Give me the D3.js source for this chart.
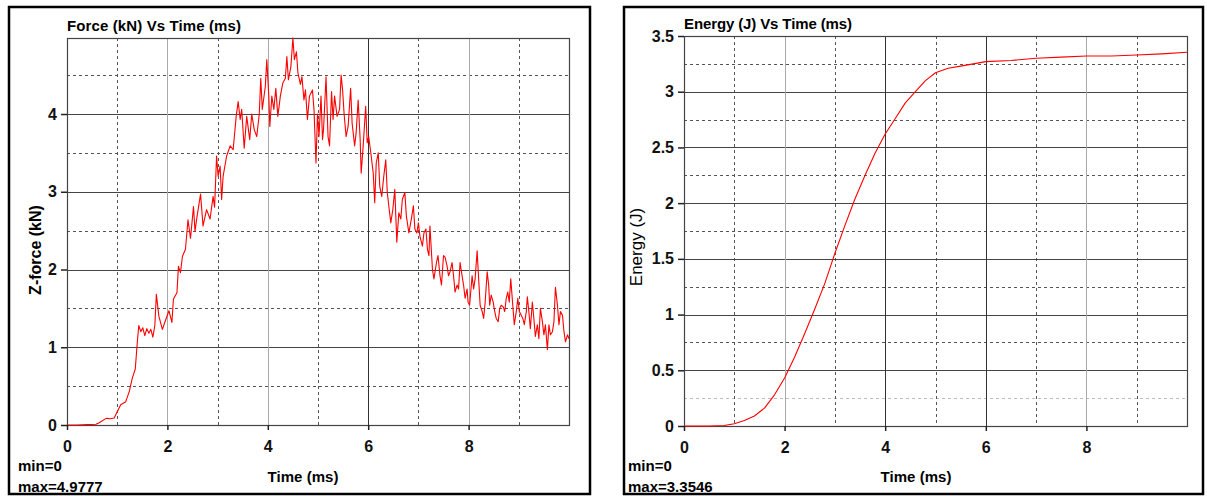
<!DOCTYPE html>
<html>
<head>
<meta charset="utf-8">
<script src="https://cdn.jsdelivr.net/npm/d3@7"></script>
<style>
  body { margin: 0; background: #fff; }
  text { font-family: "Liberation Sans", Arial, sans-serif; }
</style>
</head>
<body>
<div id="chart"></div>
<script>
var width = 1207,
    height = 496;

// Force (kN) vs time (ms)
var forceTime = [0, 0.2, 0.4, 0.58, 0.64, 0.78, 0.86, 0.94, 1.0, 1.07, 1.17, 1.24, 1.30, 1.36, 1.40, 1.43,
  1.47, 1.51, 1.55, 1.59, 1.63, 1.67, 1.71, 1.75, 1.78, 1.83, 1.90, 1.97, 2.03, 2.09, 2.12, 2.19,
  2.22, 2.26, 2.30, 2.36, 2.41, 2.46, 2.52, 2.55, 2.59, 2.66, 2.71, 2.78, 2.85, 2.91, 2.94, 2.98,
  3.01, 3.05, 3.08, 3.11, 3.18, 3.25, 3.31, 3.37, 3.41, 3.45, 3.48, 3.53, 3.58, 3.64, 3.68, 3.73,
  3.78, 3.83, 3.86, 3.89, 3.95, 3.98, 4.02, 4.04, 4.08, 4.12, 4.16, 4.20, 4.25, 4.30, 4.35, 4.38,
  4.41, 4.46, 4.50, 4.53, 4.57, 4.60, 4.65, 4.68, 4.72, 4.75, 4.79, 4.83, 4.89, 4.92, 4.96, 4.99,
  5.02, 5.06, 5.09, 5.11, 5.16, 5.20, 5.23, 5.27, 5.30, 5.33, 5.38, 5.43, 5.46, 5.49, 5.52, 5.56,
  5.60, 5.65, 5.68, 5.73, 5.76, 5.80, 5.84, 5.86, 5.90, 5.95, 5.98, 6.01, 6.06, 6.10, 6.13, 6.16,
  6.20, 6.23, 6.27, 6.31, 6.35, 6.38, 6.41, 6.45, 6.49, 6.53, 6.57, 6.61, 6.65, 6.68, 6.73, 6.76,
  6.81, 6.86, 6.90, 6.93, 6.97, 7.00, 7.03, 7.08, 7.11, 7.15, 7.18, 7.21, 7.23, 7.28, 7.31, 7.36,
  7.39, 7.43, 7.46, 7.50, 7.53, 7.57, 7.60, 7.63, 7.67, 7.70, 7.73, 7.77, 7.80, 7.83, 7.87, 7.90,
  7.93, 7.97, 7.99, 8.02, 8.07, 8.10, 8.13, 8.17, 8.20, 8.23, 8.27, 8.30, 8.33, 8.37, 8.40, 8.42,
  8.45, 8.49, 8.52, 8.55, 8.59, 8.62, 8.65, 8.69, 8.72, 8.75, 8.78, 8.81, 8.84, 8.88, 8.91, 8.95,
  8.98, 9.01, 9.05, 9.08, 9.11, 9.15, 9.17, 9.20, 9.23, 9.27, 9.30, 9.33, 9.37, 9.40, 9.43, 9.47,
  9.50, 9.53, 9.57, 9.60, 9.63, 9.67, 9.70, 9.73, 9.77, 9.80, 9.83, 9.87, 9.90, 9.93, 9.97, 10.0];

var forceKN = [0, 0, 0.005, 0.01, 0.03, 0.085, 0.08, 0.09, 0.17, 0.26, 0.3, 0.43, 0.6, 0.72, 1.06, 1.28,
  1.2, 1.25, 1.15, 1.24, 1.18, 1.23, 1.13, 1.28, 1.68, 1.4, 1.23, 1.36, 1.47, 1.32, 1.62, 1.7,
  2.04, 1.96, 2.17, 2.26, 2.64, 2.4, 2.81, 2.49, 2.68, 2.97, 2.56, 2.77, 2.65, 2.94, 2.8, 3.46,
  3.2, 3.33, 2.9, 3.2, 3.46, 3.59, 3.54, 3.97, 4.16, 3.93, 4.06, 3.56, 3.97, 3.67, 4.0, 3.8,
  3.71, 4.0, 4.46, 4.06, 4.35, 4.7, 4.23, 3.84, 4.23, 4.06, 4.33, 3.97, 4.23, 4.4, 4.46, 4.74,
  4.44, 4.61, 4.9777, 4.7, 4.8, 4.53, 4.38, 4.48, 4.18, 4.31, 3.93, 4.23, 4.31, 4.06, 3.37, 4.0,
  3.71, 4.23, 3.67, 3.8, 4.48, 3.71, 3.59, 4.29, 3.93, 4.23, 3.97, 4.06, 4.5, 4.31, 4.0, 3.71,
  3.84, 4.33, 3.88, 3.59, 3.76, 4.18, 3.67, 3.24, 3.59, 4.1, 3.63, 3.71, 3.46, 3.24, 2.86, 3.37,
  3.5, 3.07, 2.94, 3.2, 3.41, 2.99, 2.82, 2.6, 2.77, 3.03, 2.35, 2.73, 2.65, 2.9, 2.99, 2.69,
  2.47, 2.65, 2.82, 2.52, 2.47, 2.6, 2.43, 2.3, 2.47, 2.52, 2.26, 2.18, 2.56, 2.0, 1.88, 2.09,
  2.18, 1.92, 1.8, 2.18, 2.16, 2.05, 1.92, 1.97, 2.09, 1.92, 1.71, 1.8, 1.75, 2.09, 1.92, 1.8,
  1.63, 1.75, 1.58, 1.54, 1.92, 1.75, 1.88, 2.24, 1.88, 1.54, 1.46, 1.37, 1.58, 1.97, 1.8, 1.54,
  1.67, 1.58, 1.46, 1.37, 1.33, 1.5, 1.54, 1.52, 1.46, 1.63, 1.71, 1.58, 1.88, 1.54, 1.29, 1.46,
  1.63, 1.46, 1.41, 1.37, 1.29, 1.46, 1.65, 1.46, 1.24, 1.58, 1.37, 1.14, 1.29, 1.11, 1.5, 1.33,
  1.16, 1.29, 0.97, 1.29, 1.16, 1.2, 1.33, 1.77, 1.54, 1.29, 1.46, 1.41, 1.2, 1.07, 1.16, 1.11];

// Energy (J) vs time (ms)
var energyTime = [0, 0.5, 0.8, 1.0, 1.2, 1.4, 1.6, 1.8, 2.0, 2.2, 2.4, 2.6, 2.8, 3.0, 3.2, 3.4, 3.6, 3.8,
  4.0, 4.2, 4.4, 4.6, 4.8, 5.0, 5.25, 5.5, 6.0, 6.5, 7.0, 7.5, 8.0, 8.5, 9.0, 9.5, 10.0];
var energyJ = [0, 0, 0.005, 0.02, 0.05, 0.09, 0.16, 0.28, 0.43, 0.62, 0.83, 1.05, 1.28, 1.55, 1.8, 2.04, 2.25, 2.45,
  2.62, 2.76, 2.9, 3.0, 3.1, 3.17, 3.21, 3.23, 3.27, 3.28, 3.3, 3.31, 3.32, 3.32, 3.33, 3.34, 3.3546];

var timeTicks = [0, 2, 4, 6, 8];
var timeMinor = [1, 3, 5, 7, 9];
var forceTicks = [0, 1, 2, 3, 4];
var forceMinor = [0.5, 1.5, 2.5, 3.5, 4.5];
var energyTicks = [0, 0.5, 1, 1.5, 2, 2.5, 3, 3.5];
var energyMinor = [0.25, 0.75, 1.25, 1.75, 2.25, 2.75, 3.25];

var svg = d3.select("#chart").append("svg")
    .attr("width", width)
    .attr("height", height);

svg.append("rect").attr("width", width).attr("height", height).attr("fill", "#fff");

function drawPanel(p) {
  var g = svg.append("g");

  // outer frame
  g.append("rect")
      .attr("x", p.frame[0]).attr("y", p.frame[1])
      .attr("width", p.frame[2]).attr("height", p.frame[3])
      .attr("fill", "none").attr("stroke", "#000").attr("stroke-width", 2.5);

  var x = d3.scaleLinear().domain([0, 10]).range([p.left, p.right]);
  var y = d3.scaleLinear().domain(p.yDomain).range([p.bottom, p.top]);

  // dashed minor grid
  g.selectAll(".hminor").data(p.yMinor).enter().append("line")
      .attr("x1", p.left).attr("x2", p.right)
      .attr("y1", function(d) { return Math.round(y(d)) + 0.5; })
      .attr("y2", function(d) { return Math.round(y(d)) + 0.5; })
      .attr("stroke", function(d, i) { return (p.lightFirst && i == 0) ? "#bbb" : "#555"; })
      .attr("stroke-dasharray", "3,3");
  g.selectAll(".vminor").data(timeMinor).enter().append("line")
      .attr("y1", p.top).attr("y2", p.bottom)
      .attr("x1", function(d) { return Math.round(x(d)) + 0.5; })
      .attr("x2", function(d) { return Math.round(x(d)) + 0.5; })
      .attr("stroke", "#555")
      .attr("stroke-dasharray", "3,3");

  // solid major grid
  g.selectAll(".hmajor").data(p.yTicks.slice(1)).enter().append("line")
      .attr("x1", p.left).attr("x2", p.right)
      .attr("y1", function(d) { return Math.round(y(d)) + 0.5; })
      .attr("y2", function(d) { return Math.round(y(d)) + 0.5; })
      .attr("stroke", "#444");
  g.selectAll(".vmajor").data(timeTicks.slice(1)).enter().append("line")
      .attr("y1", p.top).attr("y2", p.bottom)
      .attr("x1", function(d) { return Math.round(x(d)) + 0.5; })
      .attr("x2", function(d) { return Math.round(x(d)) + 0.5; })
      .attr("stroke", function(d) { return p.darkV.indexOf(d) >= 0 ? "#333" : "#aaa"; });

  // plot frame
  g.append("rect")
      .attr("x", p.left + 0.5).attr("y", Math.round(p.top) + 0.5)
      .attr("width", p.right - p.left).attr("height", p.bottom - Math.round(p.top))
      .attr("fill", "none").attr("stroke", "#444").attr("stroke-width", 1.2);

  // data line
  var line = d3.line()
      .x(function(d) { return x(d[0]); })
      .y(function(d) { return y(d[1]); });
  g.append("path")
      .datum(d3.zip(p.xs, p.ys))
      .attr("d", line)
      .attr("fill", "none")
      .attr("stroke", "#ff0000")
      .attr("stroke-width", p.lineWidth)
      .attr("stroke-linejoin", "round");

  // axes
  var yAxis = g.append("g")
      .attr("transform", "translate(" + p.left + ",0)")
      .call(d3.axisLeft(y).tickValues(p.yTicks).tickSize(6).tickPadding(4)
        .tickFormat(function(d) { return d3.format("")(d); }));
  var xAxis = g.append("g")
      .attr("transform", "translate(0," + p.bottom + ")")
      .call(d3.axisBottom(x).tickValues(timeTicks).tickSize(5).tickPadding(11));

  [xAxis, yAxis].forEach(function(a) {
    a.select(".domain").remove();
    a.selectAll(".tick line").attr("stroke", "#222").attr("stroke-width", 1.5);
    a.selectAll("text")
        .attr("fill", "#111")
        .attr("font-size", 16)
        .attr("font-weight", "bold");
  });

  // title
  g.append("text")
      .attr("x", p.left).attr("y", p.top - 7)
      .attr("font-size", 15).attr("font-weight", "bold")
      .attr("textLength", p.titleLen)
      .text(p.title);

  // axis titles
  g.append("text")
      .attr("transform", "translate(" + p.yLabelX + "," + p.yLabelY + ") rotate(-90)")
      .attr("text-anchor", "middle")
      .attr("font-size", p.yLabelSize).attr("font-weight", p.yLabelWeight)
      .text(p.yLabel);
  g.append("text")
      .attr("x", p.xLabelX).attr("y", 482)
      .attr("text-anchor", "middle")
      .attr("font-size", 15).attr("font-weight", "bold")
      .attr("textLength", 71)
      .text("Time (ms)");

  // min / max
  g.append("text")
      .attr("x", p.minX).attr("y", 471)
      .attr("font-size", 15).attr("font-weight", "bold")
      .text("min=" + d3.min(p.ys));
  g.append("text")
      .attr("x", p.minX).attr("y", 492)
      .attr("font-size", 15).attr("font-weight", "bold")
      .text("max=" + d3.max(p.ys));
}

drawPanel({
  frame: [9, 7, 581, 487],
  left: 67, right: 569, top: 38, bottom: 425,
  yDomain: [0, d3.max(forceKN)],
  yTicks: forceTicks, yMinor: forceMinor,
  darkV: [6],
  xs: forceTime, ys: forceKN, lineWidth: 1.1,
  title: "Force (kN) Vs Time (ms)", titleLen: 174,
  yLabel: "Z-force (kN)", yLabelX: 41, yLabelY: 250, yLabelWeight: "bold", yLabelSize: 16,
  xLabelX: 303, minX: 18
});

drawPanel({
  frame: [624, 7, 579, 487],
  left: 684, right: 1187, top: 36, bottom: 426,
  yDomain: [0, 3.5],
  yTicks: energyTicks, yMinor: energyMinor, lightFirst: true,
  darkV: [4, 6],
  xs: energyTime, ys: energyJ, lineWidth: 1.1,
  title: "Energy (J) Vs Time (ms)", titleLen: 168,
  yLabel: "Energy (J)", yLabelX: 642, yLabelY: 247, yLabelWeight: "normal", yLabelSize: 17,
  xLabelX: 916, minX: 628
});
</script>
</body>
</html>
